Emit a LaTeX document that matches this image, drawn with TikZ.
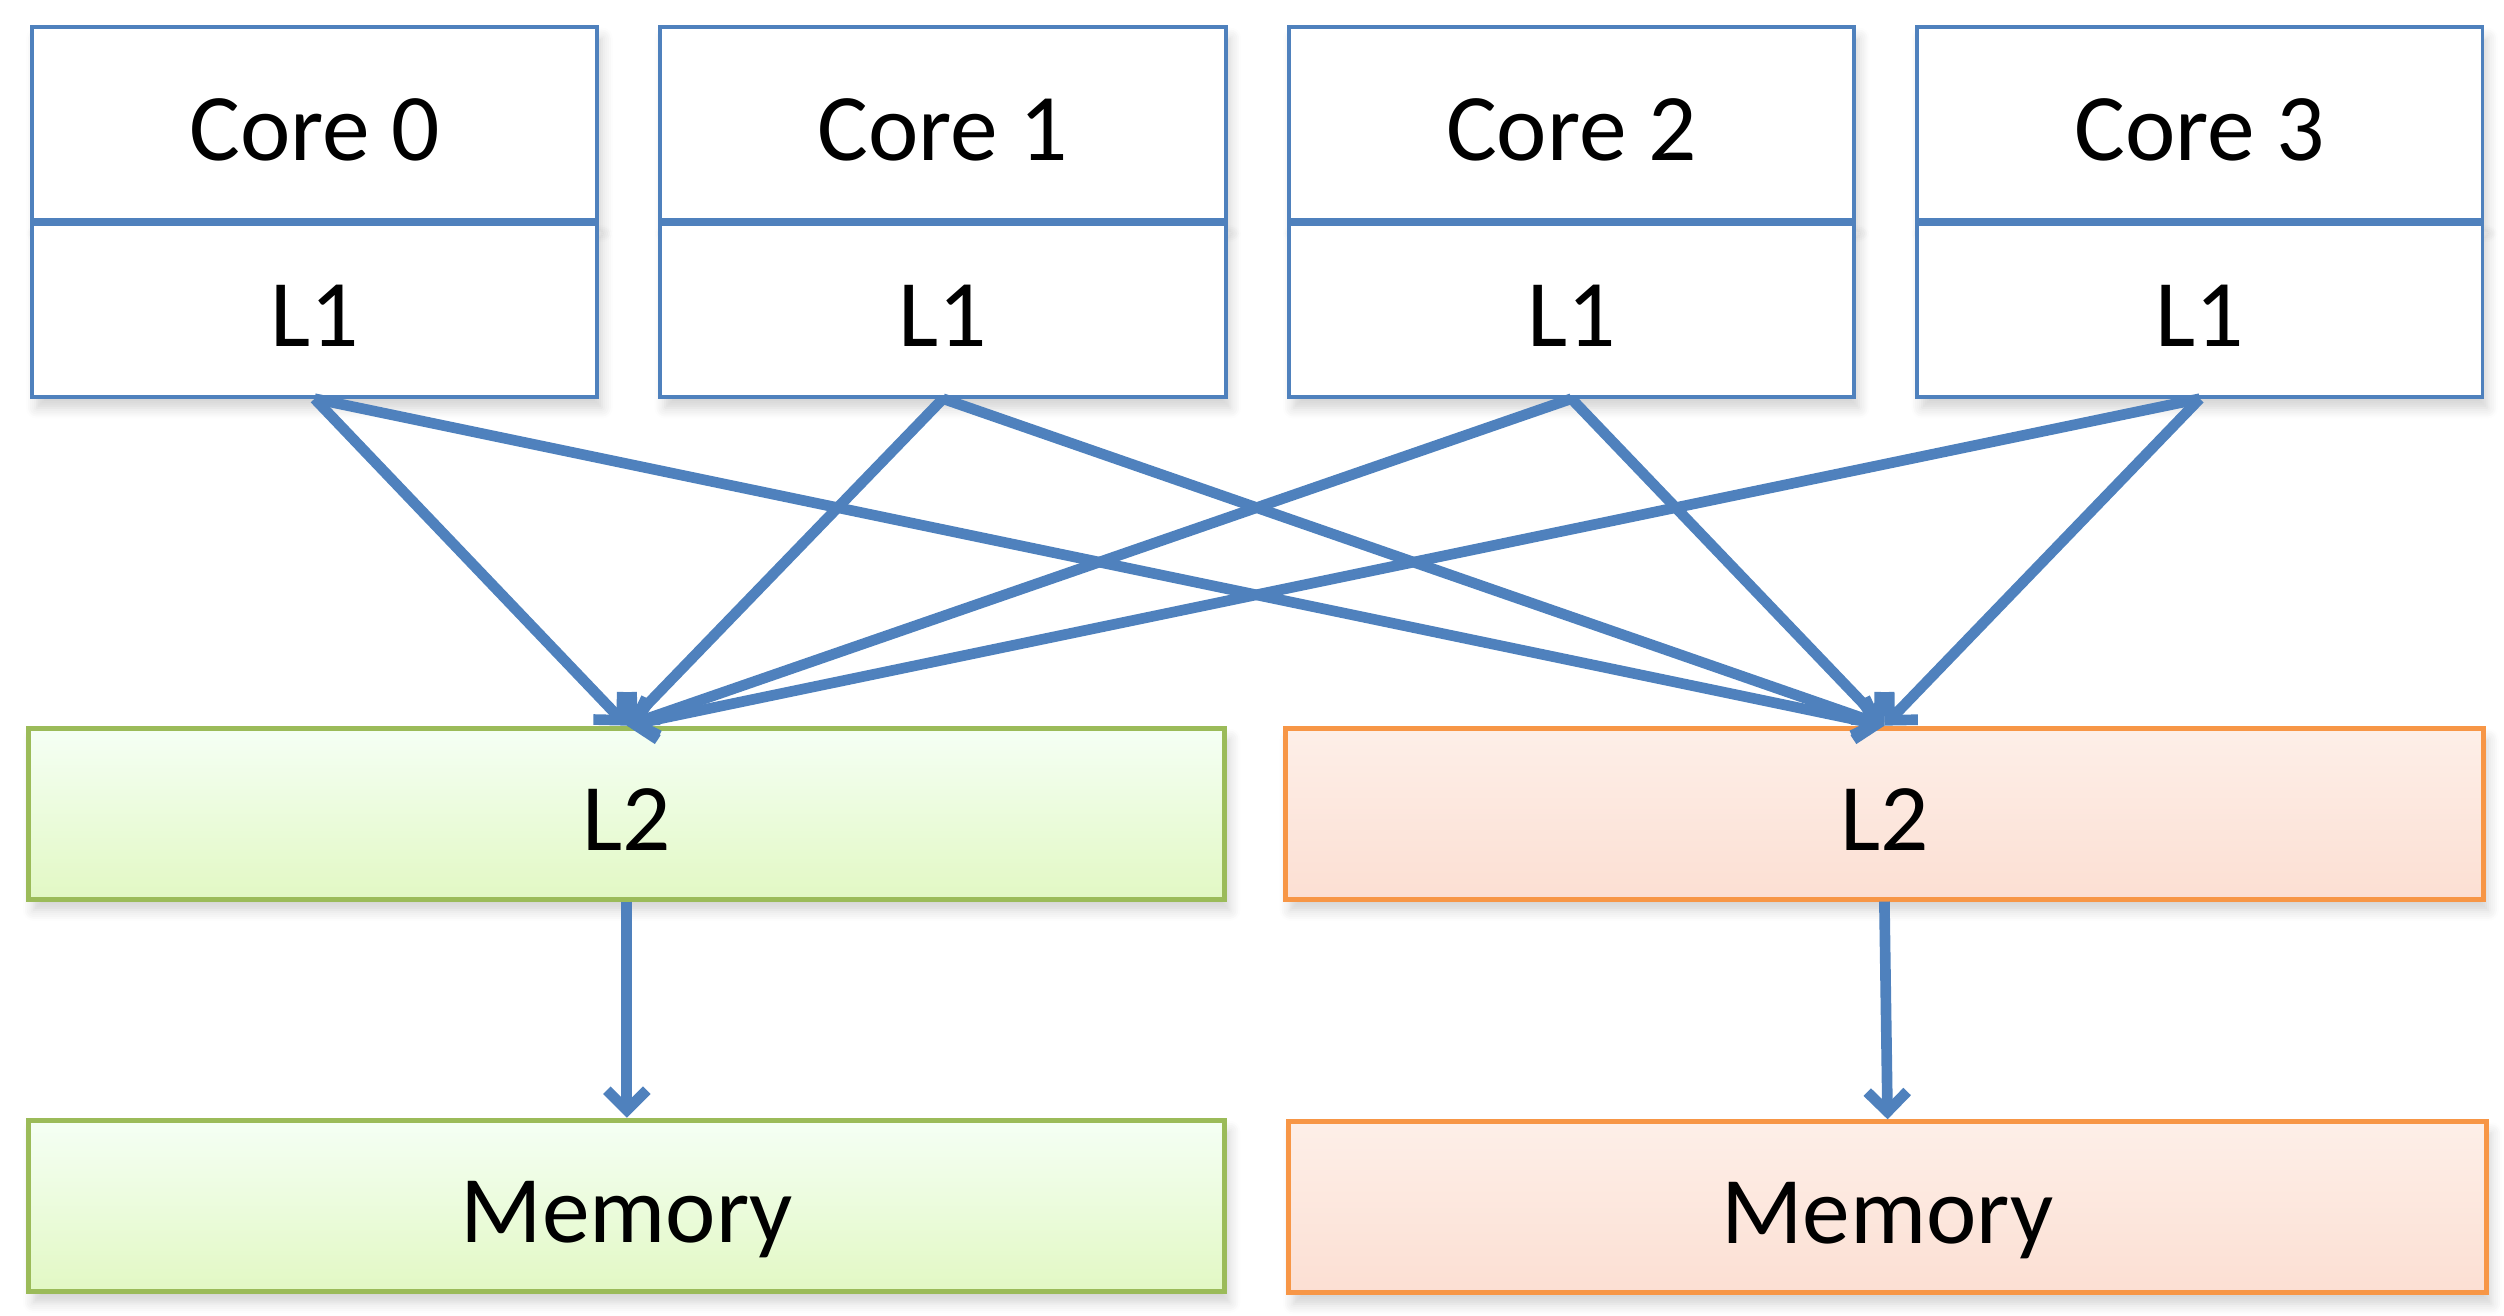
\documentclass[tikz,border=0pt]{standalone}
\usepackage{fontspec}
\setmainfont{Carlito}
\usetikzlibrary{arrows.meta,shadows.blur}

\definecolor{lineblue}{HTML}{4F81BD}
\definecolor{greenedge}{HTML}{9BBB59}
\definecolor{orangeedge}{HTML}{F79646}

\tikzset{
  softshadow/.style={blur shadow={shadow blur steps=6, shadow xshift=0.3mm, shadow yshift=-0.7mm, shadow opacity=18}},
  labeltext/.style={text height=13pt, text depth=0pt},
  corebox/.style={draw=lineblue, line width=0.7pt, fill=white, softshadow, labeltext, minimum width=3.54cm, inner sep=0pt},
  greenbox/.style={draw=greenedge, line width=0.9pt, top color=green!4!white, bottom color={rgb,255:red,226;green,248;blue,196}, softshadow, labeltext, minimum width=7.49cm, minimum height=1.07cm},
  orangebox/.style={draw=orangeedge, line width=0.9pt, top color={rgb,255:red,253;green,239;blue,232}, bottom color={rgb,255:red,252;green,223;blue,211}, softshadow, labeltext, minimum width=7.5cm, minimum height=1.07cm},
  link/.style={draw=lineblue, line width=1.9pt, -{Straight Barb[length=1.25mm,width=2.5mm,line width=1.9pt,line cap=butt,line join=miter]}}
}

\begin{document}
\begin{tikzpicture}[font=\fontsize{17}{20}\selectfont]
\useasboundingbox (0,0) rectangle (15.68,8.24);

\node[corebox, minimum height=1.21cm] (core0) at (1.97,7.465) {Core 0};
\node[corebox, minimum height=1.08cm, anchor=north] (l1a) at (core0.south) {L1};
\node[corebox, minimum height=1.21cm] (core1) at (5.905,7.465) {Core 1};
\node[corebox, minimum height=1.08cm, anchor=north] (l1b) at (core1.south) {L1};
\node[corebox, minimum height=1.21cm] (core2) at (9.84,7.465) {Core 2};
\node[corebox, minimum height=1.08cm, anchor=north] (l1c) at (core2.south) {L1};
\node[corebox, minimum height=1.21cm] (core3) at (13.775,7.465) {Core 3};
\node[corebox, minimum height=1.08cm, anchor=north] (l1d) at (core3.south) {L1};

\node[greenbox] (l2a) at (3.925,3.145) {L2};
\node[orangebox] (l2b) at (11.80,3.145) {L2};
\node[greenbox] (mema) at (3.925,0.69) {Memory};
\node[orangebox] (memb) at (11.82,0.68) {Memory};

\draw[link] (l1a.south) -- (l2a.north);
\draw[link] (l1b.south) -- (l2a.north);
\draw[link] (l1c.south) -- (l2a.north);
\draw[link] (l1d.south) -- (l2a.north);
\draw[link] (l1a.south) -- (l2b.north);
\draw[link] (l1b.south) -- (l2b.north);
\draw[link] (l1c.south) -- (l2b.north);
\draw[link] (l1d.south) -- (l2b.north);

\draw[link] (l2a.south) -- (mema.north);
\draw[link] (l2b.south) -- (memb.north);
\end{tikzpicture}
\end{document}
